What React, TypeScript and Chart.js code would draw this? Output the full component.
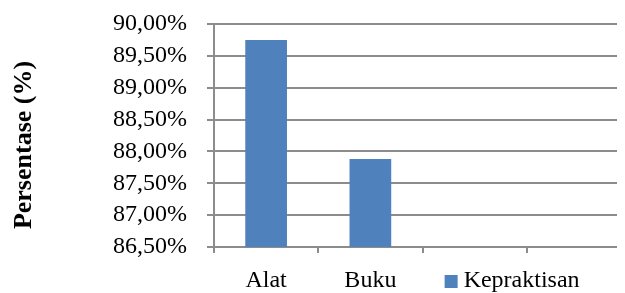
import React, { useEffect, useRef } from "react";
import { Chart, registerables } from "chart.js";
Chart.register(...registerables);

const categories = ["Alat", "Buku", "", ""];
const kepraktisan: (number | null)[] = [89.75, 87.88, null, null];
const seriesLabel = "Kepraktisan";
const yTitle = "Persentase (%)";
const yMin = 86.5;
const yMax = 90;
const yStep = 0.5;

const SERIF = "'Liberation Serif', 'Times New Roman', serif";
const BAR = "#4F81BD";
const GRID = "#8c8c8c";

export default function App() {
  const ref = useRef<HTMLCanvasElement>(null);
  useEffect(() => {
    if (!ref.current) return;
    const overlay = {
      id: "overlayText",
      afterDraw(chart: any) {
        const ctx = chart.ctx as CanvasRenderingContext2D;
        const xs = chart.scales.x;
        const ca = chart.chartArea;
        const ds = chart.data.datasets[0];
        ctx.save();
        // legend
        const cx = xs.getPixelForValue(2);
        const boxX = cx - 30;
        const boxY = ca.bottom + 28;
        ctx.fillStyle = ds.backgroundColor;
        ctx.fillRect(boxX, boxY, 13, 13);
        ctx.fillStyle = "#000";
        ctx.font = `24px ${SERIF}`;
        ctx.textBaseline = "alphabetic";
        ctx.textAlign = "left";
        ctx.fillText(ds.label, boxX + 19, ca.bottom + 40);
        // y title
        ctx.translate(16, 137);
        ctx.rotate(-Math.PI / 2);
        ctx.font = `bold 26px ${SERIF}`;
        ctx.textAlign = "center";
        ctx.textBaseline = "middle";
        ctx.fillText(yTitle, 0, 0);
        ctx.restore();
      },
    };
    const chart = new Chart(ref.current, {
      type: "bar",
      data: {
        labels: categories,
        datasets: [
          {
            label: seriesLabel,
            data: kepraktisan,
            backgroundColor: BAR,
            barPercentage: 0.4,
            categoryPercentage: 1,
          },
        ],
      },
      options: {
        animation: false,
        responsive: false,
        layout: { padding: { top: 16, left: 0, right: 0, bottom: 0 } },
        plugins: { legend: { display: false }, tooltip: { enabled: false } },
        scales: {
          x: {
            grid: {
              display: true,
              drawOnChartArea: false,
              drawTicks: true,
              tickLength: 6,
              color: GRID,
              lineWidth: 2,
              offset: true,
            },
            border: { color: GRID, width: 2 },
            ticks: {
              color: "#000",
              font: { family: SERIF, size: 24 },
              padding: 13,
              maxRotation: 0,
              autoSkip: false,
            },
            afterFit(scale: any) {
              scale.height = 46;
              scale.paddingLeft = 0;
              scale.paddingRight = 0;
            },
          },
          y: {
            min: yMin,
            max: yMax,
            grid: { color: GRID, lineWidth: 2, tickLength: 7 },
            border: { color: GRID, width: 2 },
            ticks: {
              stepSize: yStep,
              autoSkip: false,
              color: "#000",
              font: { family: SERIF, size: 24 },
              padding: 20,
              callback: (v: any) => Number(v).toFixed(2).replace(".", ",") + "%",
            },
            afterFit(scale: any) {
              scale.width = 206;
              scale.paddingTop = 0;
              scale.paddingBottom = 0;
            },
          },
        },
      },
      plugins: [overlay],
    });
    return () => chart.destroy();
  }, []);
  return (
    <div style={{ width: 617, height: 285, overflow: "hidden" }}>
      <canvas ref={ref} width={623} height={285} style={{ display: "block" }} />
    </div>
  );
}
